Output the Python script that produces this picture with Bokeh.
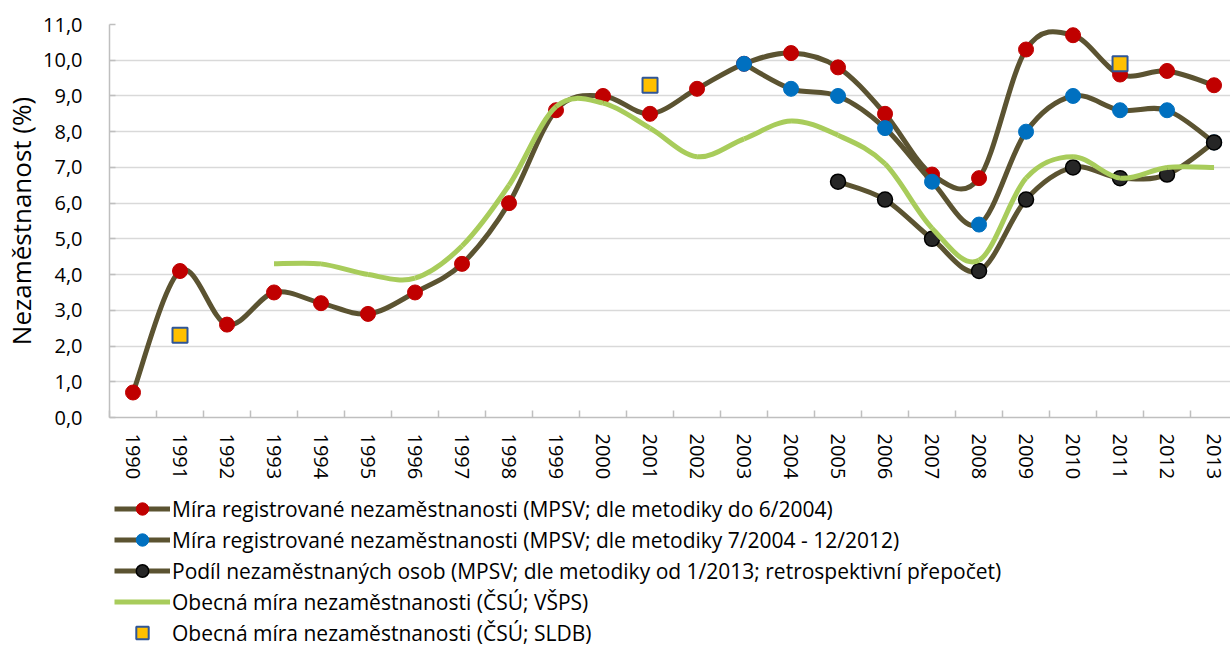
from bokeh.plotting import figure
from bokeh.layouts import column
from bokeh.models import (Range1d, FixedTicker, CustomJSTickFormatter, Legend, LegendItem,
                          ColumnDataSource)
from bokeh.embed import file_html
from bokeh.resources import INLINE

# ---------------- data ----------------
years = list(range(1990, 2014))

reg_old_years = list(range(1990, 2014))
reg_old = [0.7, 4.1, 2.6, 3.5, 3.2, 2.9, 3.5, 4.3, 6.0, 8.6, 9.0, 8.5, 9.2, 9.9, 10.2,
           9.8, 8.5, 6.8, 6.7, 10.3, 10.7, 9.6, 9.7, 9.3]

reg_mid_years = list(range(2003, 2014))
reg_mid = [9.9, 9.2, 9.0, 8.1, 6.6, 5.4, 8.0, 9.0, 8.6, 8.6, 7.7]

podil_years = list(range(2005, 2014))
podil = [6.6, 6.1, 5.0, 4.1, 6.1, 7.0, 6.7, 6.8, 7.7]

vsps_years = list(range(1993, 2014))
vsps = [4.3, 4.3, 4.0, 3.9, 4.8, 6.5, 8.7, 8.8, 8.1, 7.3, 7.8, 8.3, 7.9, 7.1, 5.3,
        4.4, 6.7, 7.3, 6.7, 7.0, 7.0]

sldb_years = [1991, 2001, 2011]
sldb = [2.3, 9.3, 9.9]

labels = [
    "Míra registrované nezaměstnanosti (MPSV; dle metodiky do 6/2004)",
    "Míra registrované nezaměstnanosti (MPSV; dle metodiky 7/2004 - 12/2012)",
    "Podíl nezaměstnaných osob (MPSV; dle metodiky od 1/2013; retrospektivní přepočet)",
    "Obecná míra nezaměstnanosti (ČSÚ; VŠPS)",
    "Obecná míra nezaměstnanosti (ČSÚ; SLDB)",
]
y_label = "Nezaměstnanost (%)"

FONT = "Open Sans"
OLIVE = "#5B5331"
GREEN = "#A8CC5B"


def bezier_source(xs, ys):
    """Smoothed-line control points (Excel-like) computed from the data."""
    n = len(xs)
    d = dict(x0=[], y0=[], x1=[], y1=[], cx0=[], cy0=[], cx1=[], cy1=[])
    for i in range(n - 1):
        xm, ym = (xs[i - 1], ys[i - 1]) if i > 0 else (xs[i], ys[i])
        xp, yp = (xs[i + 2], ys[i + 2]) if i + 2 < n else (xs[i + 1], ys[i + 1])
        d["x0"].append(xs[i]); d["y0"].append(ys[i])
        d["x1"].append(xs[i + 1]); d["y1"].append(ys[i + 1])
        d["cx0"].append(xs[i] + (xs[i + 1] - xm) / 6.0)
        d["cy0"].append(ys[i] + (ys[i + 1] - ym) / 6.0)
        d["cx1"].append(xs[i + 1] - (xp - xs[i]) / 6.0)
        d["cy1"].append(ys[i + 1] - (yp - ys[i]) / 6.0)
    return ColumnDataSource(d)


def add_series(fig):
    """Draw all series into fig; return renderers per legend entry."""
    bz = dict(x0="x0", y0="y0", x1="x1", y1="y1", cx0="cx0", cy0="cy0", cx1="cx1", cy1="cy1")
    l1 = fig.bezier(source=bezier_source(reg_old_years, reg_old), line_color=OLIVE,
                    line_width=5, **bz)
    s1 = fig.scatter(reg_old_years, reg_old, marker="circle", size=15, fill_color="#C00000",
                     line_color="#C00000")
    l2 = fig.bezier(source=bezier_source(reg_mid_years, reg_mid), line_color=OLIVE,
                    line_width=5, **bz)
    s2 = fig.scatter(reg_mid_years, reg_mid, marker="circle", size=15, fill_color="#0070C0",
                     line_color="#0070C0")
    l3 = fig.bezier(source=bezier_source(podil_years, podil), line_color=OLIVE,
                    line_width=5, **bz)
    s3 = fig.scatter(podil_years, podil, marker="circle", size=15, fill_color="#262626",
                     line_color="#000000", line_width=1.5)
    l4 = fig.bezier(source=bezier_source(vsps_years, vsps), line_color=GREEN,
                    line_width=5, **bz)
    s5 = fig.scatter(sldb_years, sldb, marker="square", size=15, fill_color="#FFC000",
                     line_color="#2F5597", line_width=2)
    return [[l1, s1], [l2, s2], [l3, s3], [l4], [s5]]


# ---------------- main chart ----------------
p = figure(width=1230, height=484, output_backend="svg", toolbar_location=None,
           x_range=Range1d(1989.5, 2013.35), y_range=Range1d(0, 11),
           min_border_left=107, min_border_top=24, min_border_right=0,
           min_border_bottom=67)
p.outline_line_color = None
p.background_fill_color = "white"
p.border_fill_color = "white"

p.xgrid.visible = False
p.ygrid.grid_line_color = "#D9D9D9"
p.ygrid.grid_line_width = 1.5
p.ygrid.ticker = FixedTicker(ticks=list(range(0, 12)))

xa = p.xaxis[0]
xa.ticker = FixedTicker(ticks=years, minor_ticks=[y - 0.5 for y in years] + [2013.5])
xa.formatter = CustomJSTickFormatter(code="return tick.toFixed(0);")
xa.major_label_orientation = "vertical"
xa.major_tick_out = 0
xa.major_tick_in = 0
xa.minor_tick_out = 0
xa.minor_tick_in = 7
xa.minor_tick_line_color = "#BFBFBF"
xa.minor_tick_line_width = 1.5
xa.axis_line_color = "#BFBFBF"
xa.axis_line_width = 1.5
xa.major_label_standoff = 16
xa.major_label_text_font = FONT
xa.major_label_text_font_size = "20px"
xa.major_label_text_color = "#000000"

ya = p.yaxis[0]
ya.ticker = FixedTicker(ticks=list(range(0, 12)))
ya.formatter = CustomJSTickFormatter(code="return tick.toFixed(1).replace('.', ',');")
ya.major_tick_out = 0
ya.major_tick_in = 6
ya.minor_tick_line_color = None
ya.major_tick_line_color = "#BFBFBF"
ya.major_tick_line_width = 1.5
ya.axis_line_color = "#BFBFBF"
ya.axis_line_width = 1.5
ya.major_label_standoff = 27
ya.major_label_text_font = FONT
ya.major_label_text_font_size = "20px"
ya.major_label_text_color = "#000000"
ya.axis_label = y_label
ya.axis_label_text_font = FONT
ya.axis_label_text_font_size = "26px"
ya.axis_label_text_font_style = "normal"
ya.axis_label_text_color = "#000000"
ya.axis_label_standoff = 1

add_series(p)

# ---------------- legend (separate strip below the chart) ----------------
lg = figure(width=1230, height=164, output_backend="svg", toolbar_location=None,
            x_range=Range1d(0, 1), y_range=Range1d(0, 1),
            x_axis_type=None, y_axis_type=None,
            min_border_left=0, min_border_right=0, min_border_top=0, min_border_bottom=0)
lg.outline_line_color = None
lg.xgrid.visible = False
lg.ygrid.visible = False
lg.background_fill_color = "white"
lg.border_fill_color = "white"

rends = add_series(lg)
items = [LegendItem(label=lab, renderers=r) for lab, r in zip(labels, rends)]

legend = Legend(items=items, location=(5, 0), orientation="vertical")
legend.border_line_color = None
legend.background_fill_alpha = 0
legend.label_text_font = FONT
legend.label_text_font_size = "21px"
legend.label_text_color = "#000000"
legend.glyph_width = 56
legend.glyph_height = 31
legend.label_height = 24
legend.label_standoff = 2
legend.spacing = 0
legend.padding = 0
legend.margin = 0
lg.add_layout(legend)

layout = column(p, lg, spacing=0)
open("out.html", "w").write(file_html(layout, INLINE))
